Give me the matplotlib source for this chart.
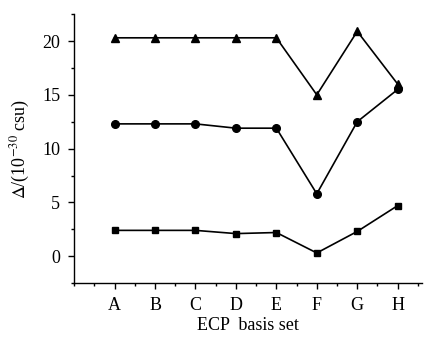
import matplotlib
matplotlib.use('Agg')
import matplotlib.pyplot as plt
from matplotlib.ticker import MultipleLocator

plt.rcParams['font.family'] = ['Liberation Serif', 'DejaVu Serif']
plt.rcParams['mathtext.fontset'] = 'stix'

basis = ['A', 'B', 'C', 'D', 'E', 'F', 'G', 'H']
triangles = [20.3, 20.3, 20.3, 20.3, 20.3, 15.0, 20.9, 16.0]
circles = [12.3, 12.3, 12.3, 11.9, 11.9, 5.8, 12.5, 15.5]
squares = [2.4, 2.4, 2.4, 2.1, 2.2, 0.3, 2.3, 4.7]

x = list(range(1, len(basis) + 1))

fig = plt.figure(figsize=(4.31, 3.37), dpi=100)
ax = fig.add_axes([0.172, 0.160, 0.807, 0.798])

ax.plot(x, triangles, color='black', marker='^', markersize=5.5, linewidth=1.2)
ax.plot(x, circles, color='black', marker='o', markersize=5.5, linewidth=1.2)
ax.plot(x, squares, color='black', marker='s', markersize=5, linewidth=1.2)

ax.set_xlim(0, 8.6)
ax.set_ylim(-2.5, 22.5)
ax.set_xticks(x)
ax.set_xticklabels(basis)
ax.xaxis.set_minor_locator(MultipleLocator(0.5))
ax.yaxis.set_major_locator(MultipleLocator(5))
ax.yaxis.set_minor_locator(MultipleLocator(2.5))

for s in ['top', 'right']:
    ax.spines[s].set_visible(False)
for s in ['left', 'bottom']:
    ax.spines[s].set_linewidth(1.0)

ax.tick_params(which='major', direction='out', length=4, width=1, labelsize=13, pad=6)
ax.tick_params(which='minor', direction='out', length=2.5, width=1)

ax.set_xlabel('ECP  basis set', fontsize=13, labelpad=2)
ax.set_ylabel(r'$\Delta$/(10$^{-30}$ csu)', fontsize=13, labelpad=7)

fig.savefig('out.png', dpi=100)
